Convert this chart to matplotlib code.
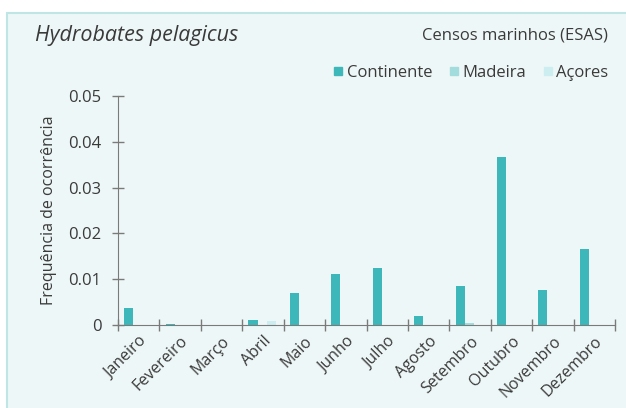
import numpy as np
import matplotlib
matplotlib.use("Agg")
import matplotlib.pyplot as plt
from matplotlib.patches import Rectangle
from matplotlib.lines import Line2D

plt.rcParams['font.family'] = ['Open Sans', 'DejaVu Sans']

MONTHS = ["Janeiro", "Fevereiro", "Março", "Abril", "Maio", "Junho", "Julho",
          "Agosto", "Setembro", "Outubro", "Novembro", "Dezembro"]
CONTINENTE = [0.0038, 0.0003, 0.0, 0.0012, 0.0069, 0.0112, 0.0124,
              0.0019, 0.0086, 0.0367, 0.0077, 0.0165]
MADEIRA = [0.0, 0.0, 0.0, 0.0, 0.0, 0.0, 0.0, 0.0, 0.0005, 0.0, 0.0, 0.0]
ACORES = [0.0, 0.0, 0.0, 0.0008, 0.0, 0.0, 0.0, 0.0, 0.0, 0.0, 0.0, 0.0]
SERIES = ["Continente", "Madeira", "Açores"]
COLORS = ["#3db7b9", "#a3dcdd", "#cdeef0"]

TEXT = "#3a3a3a"
AXIS = "#7a7a7a"

fig = plt.figure(figsize=(6.26, 4.08), dpi=100)
fig.patch.set_facecolor("white")
fig.patches.append(Rectangle((7 / 626, -0.01), 1.0, 1 - 13 / 408 + 0.01,
                             transform=fig.transFigure, facecolor="#eef7f7",
                             edgecolor="#bfe5e5", linewidth=1.5, zorder=-5))

ax = fig.add_axes([118 / 626, 83 / 408, 497 / 626, 229 / 408])
ax.set_facecolor("none")

x = np.arange(len(MONTHS))
width = 0.22
for i, (vals, col) in enumerate(zip([CONTINENTE, MADEIRA, ACORES], COLORS)):
    ax.bar(x + 0.15 + i * width, vals, width=width, align="edge",
           color=col, linewidth=0, zorder=2)

ax.set_xlim(0, 12)
ax.set_ylim(0, 0.05)
ax.set_xticks(np.arange(13))
ax.set_xticklabels([])
ax.set_xticks(x + 0.5, minor=True)
ax.set_xticklabels(MONTHS, minor=True, rotation=45, ha="right",
                   rotation_mode="anchor", fontsize=11.5, color=TEXT)
ax.tick_params(axis="x", which="minor", length=0, pad=6)
ax.set_yticks([0, 0.01, 0.02, 0.03, 0.04, 0.05])
ax.set_yticklabels(["0", "0.01", "0.02", "0.03", "0.04", "0.05"],
                   fontsize=12, color=TEXT)
ax.tick_params(axis="both", which="major", direction="inout", length=8,
               color=AXIS, width=1)
ax.tick_params(axis="y", pad=8)
for s in ["top", "right"]:
    ax.spines[s].set_visible(False)
for s in ["left", "bottom"]:
    ax.spines[s].set_color(AXIS)
ax.set_ylabel("Frequência de ocorrência", fontsize=11.5, color=TEXT, labelpad=8)

fig.text(35 / 626, 1 - 35 / 408, "Hydrobates pelagicus", fontsize=15.5,
         style="italic", color=TEXT, va="center", ha="left")
fig.text(608 / 626, 1 - 35 / 408, "Censos marinhos (ESAS)", fontsize=12,
         color=TEXT, va="center", ha="right")

handles = [Line2D([], [], marker="s", linestyle="none", markersize=6,
                  markerfacecolor=c, markeredgecolor=c) for c in COLORS]
fig.legend(handles, SERIES, loc="center right", ncol=3, frameon=False,
           bbox_to_anchor=(623 / 626, 1 - 73 / 408), fontsize=12,
           handletextpad=0.1, columnspacing=0.9, handlelength=0.8,
           labelcolor=TEXT)

fig.savefig("out.png", dpi=100)
